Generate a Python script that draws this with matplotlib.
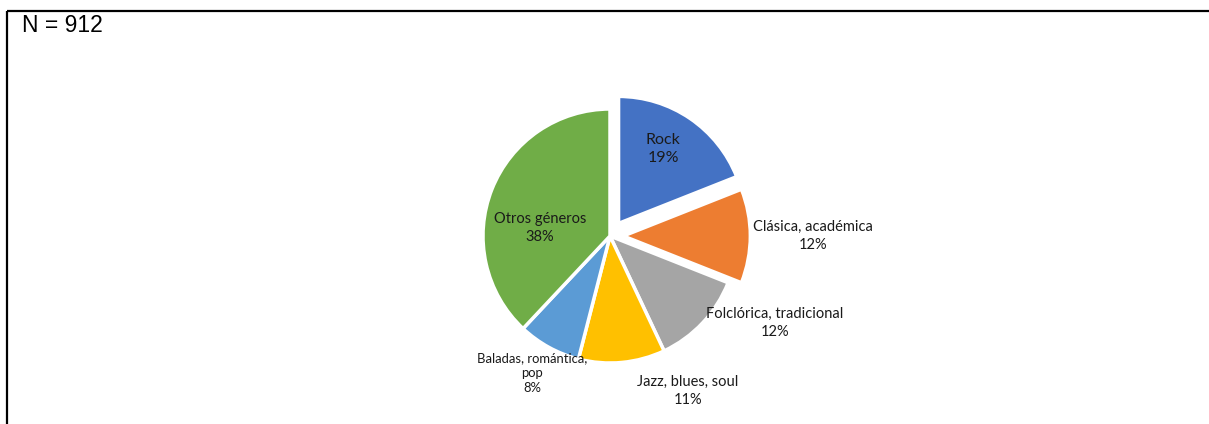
import matplotlib.pyplot as plt
from matplotlib.lines import Line2D

# music genre shares (percent)
genres = ['Rock', 'Clásica, académica', 'Folclórica, tradicional',
          'Jazz, blues, soul', 'Baladas, romántica,\npop', 'Otros géneros']
shares = [19, 12, 12, 11, 8, 38]
colors = ['#4472C4', '#ED7D31', '#A5A5A5', '#FFC000', '#5B9BD5', '#70AD47']
explode = [0.12, 0.105, 0, 0, 0, 0]   # fraction of radius
n_total = 912

# label placement in pixels (x, y from top) and font sizes
label_pos = [(663, 149), (813, 236), (775, 323), (688, 391), (532, 373), (540, 228)]
label_size = [11.5, 10.5, 10.5, 10.5, 9.4, 10.5]
label_gap = [1.45, 1.4, 1.4, 1.4, 1.3, 1.4]

W, H = 1209, 424
fig = plt.figure(figsize=(W / 100, H / 100), dpi=100)
ax = fig.add_axes([0, 0, 1, 1])

cx, cy, R = 610, H - 236, 127
# pie() takes explode in data units, so scale by the radius
ax.pie(shares, colors=colors, explode=[e * R for e in explode], startangle=90,
       counterclock=False, center=(cx, cy), radius=R,
       wedgeprops=dict(edgecolor='white', linewidth=2.5))
ax.set_xlim(0, W)
ax.set_ylim(0, H)
ax.set_aspect('equal')
ax.axis('off')

for name, val, (lx, ly), fs, gap in zip(genres, shares, label_pos, label_size, label_gap):
    ax.text(lx, H - ly, f'{name}\n{val}%', ha='center', va='center',
            fontsize=fs, family='Lato', color='#1a1a1a', linespacing=gap)

ax.text(22, H - 26, f'N = {n_total}', ha='left', va='center',
        fontsize=16.5, family='Liberation Sans', color='black')

# chart frame (top and left edges)
fig.add_artist(Line2D([7 / W, 1.01], [1 - 11 / H, 1 - 11 / H], color='black',
                      lw=1.6, solid_capstyle='butt'))
fig.add_artist(Line2D([7 / W, 7 / W], [-0.01, 1 - 11 / H], color='black',
                      lw=1.6, solid_capstyle='butt'))

fig.savefig('out.png', dpi=100)
